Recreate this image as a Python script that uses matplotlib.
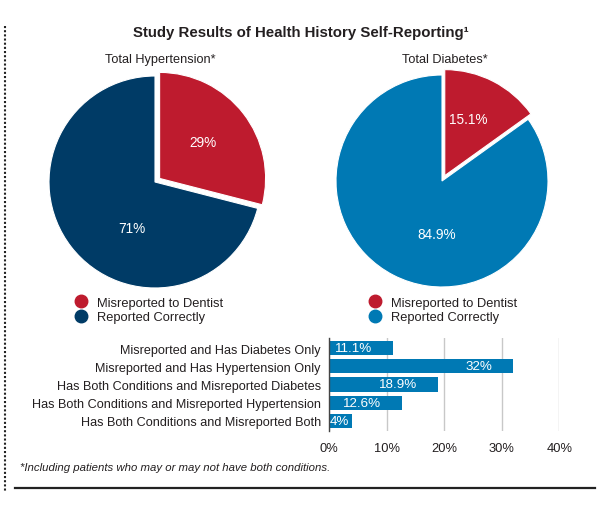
import matplotlib
matplotlib.use("Agg")
import matplotlib.pyplot as plt
from matplotlib.lines import Line2D
import numpy as np

# ---------------- data ----------------
title = "Study Results of Health History Self-Reporting\u00b9"
pie_titles = ["Total Hypertension*", "Total Diabetes*"]
pie_labels = ["Misreported to Dentist", "Reported Correctly"]
hypertension_values = [29, 71]
hypertension_text = ["29%", "71%"]
diabetes_values = [15.1, 84.9]
diabetes_text = ["15.1%", "84.9%"]

bar_categories = [
    "Misreported and Has Diabetes Only",
    "Misreported and Has Hypertension Only",
    "Has Both Conditions and Misreported Diabetes",
    "Has Both Conditions and Misreported Hypertension",
    "Has Both Conditions and Misreported Both",
]
bar_values = [11.1, 32, 18.9, 12.6, 4]
bar_text = ["11.1%", "32%", "18.9%", "12.6%", "4%"]
x_ticks = [0, 10, 20, 30, 40]
x_ticklabels = ["0%", "10%", "20%", "30%", "40%"]
footnote = "*Including patients who may or may not have both conditions."

# ---------------- style ----------------
RED = "#BE1B2E"
NAVY = "#003B66"
BLUE = "#0079B4"
TXT = "#231F20"
plt.rcParams["font.family"] = ["Liberation Sans", "DejaVu Sans"]

W, H = 600, 506
fig = plt.figure(figsize=(6.0, 5.06), dpi=100)


def frac_box(left_px, top_px, w_px, h_px):
    return [left_px / W, (H - top_px - h_px) / H, w_px / W, h_px / H]


R = 106.0
LIM = 1.2
side = 2 * LIM * R


def draw_pie(cx, cy, values, texts, colors, explode, label_pos):
    ax = fig.add_axes(frac_box(cx - side / 2, cy - side / 2, side, side))
    ax.pie(values, colors=colors, startangle=90, counterclock=False,
           explode=explode, radius=1.0,
           wedgeprops=dict(edgecolor="white", linewidth=0.8))
    for t, (px, py) in zip(texts, label_pos):
        ax.text(px, py, t, color="white", fontsize=9.8, ha="center", va="center")
    ax.set_xlim(-LIM, LIM)
    ax.set_ylim(-LIM, LIM)
    ax.set_aspect("equal")
    ax.axis("off")
    return ax


draw_pie(155, 183, hypertension_values, hypertension_text, [RED, NAVY],
         [0.055, 0], [(0.45, 0.38), (-0.22, -0.43)])
draw_pie(442, 182, diabetes_values, diabetes_text, [RED, BLUE],
         [0.057, 0], [(0.25, 0.585), (-0.05, -0.5)])

# titles
fig.text(301 / W, 1 - 33 / H, title, ha="center", va="center",
         fontsize=10.8, fontweight="bold", color=TXT)
fig.text(160 / W, 1 - 60 / H, pie_titles[0], ha="center", va="center",
         fontsize=9.2, color=TXT)
fig.text(445 / W, 1 - 60 / H, pie_titles[1], ha="center", va="center",
         fontsize=9.2, color=TXT)

# legends
for x_px, cols in [(76, [RED, NAVY]), (370, [RED, BLUE])]:
    handles = [Line2D([], [], marker="o", linestyle="none", markersize=9,
                      markerfacecolor=c, markeredgecolor=c) for c in cols]
    fig.legend(handles, pie_labels, loc="upper left",
               bbox_to_anchor=(x_px / W, 1 - 297.5 / H), frameon=False,
               fontsize=9.3, handlelength=0.8, handletextpad=0.85,
               labelspacing=0.22, borderpad=0, borderaxespad=0,
               labelcolor=TXT)

# bar chart
bax = fig.add_axes(frac_box(329.3, 339, 230, 93))
y = np.arange(len(bar_categories))
bax.barh(y, bar_values, height=0.77, color=BLUE, zorder=3)
bax.set_xlim(0, 40)
bax.set_ylim(len(bar_categories) - 0.45, -0.55)
bax.set_xticks(x_ticks)
bax.set_xticklabels(x_ticklabels, fontsize=9.3, color=TXT)
bax.set_yticks(y)
bax.set_yticklabels(bar_categories, fontsize=9.1, color=TXT)
bax.tick_params(axis="both", length=0)
bax.tick_params(axis="x", pad=8)
bax.tick_params(axis="y", pad=6)
bax.grid(axis="x", color="#c8c8c8", linewidth=1, zorder=0)
for s in ["top", "right", "bottom"]:
    bax.spines[s].set_visible(False)
bax.spines["left"].set_color("#444444")
bax.spines["left"].set_linewidth(1)
bax.spines["left"].set_zorder(4)
for yi, v, t in zip(y, bar_values, bar_text):
    if v < 6:
        bax.text(0.05, yi, t, color="white", fontsize=9.6, ha="left",
                 va="center", zorder=5)
    else:
        bax.text(v - 3.6, yi, t, color="white", fontsize=9.6,
                 ha="right", va="center", zorder=5)

# footnote
fig.text(20 / W, 1 - 468 / H, footnote, ha="left", va="center",
         fontsize=8.2, style="italic", color=TXT)

# decorative lines
fig.add_artist(Line2D([15 / W, 595 / W], [1 - 489 / H, 1 - 489 / H],
                      color="#222222", linewidth=1.6, transform=fig.transFigure))
fig.add_artist(Line2D([5 / W, 5 / W], [1 - 27 / H, 1 - 492 / H],
                      color="#222222", linewidth=1.5, linestyle=(0, (1, 1)),
                      transform=fig.transFigure))

fig.savefig("out.png", dpi=100, facecolor="white")
